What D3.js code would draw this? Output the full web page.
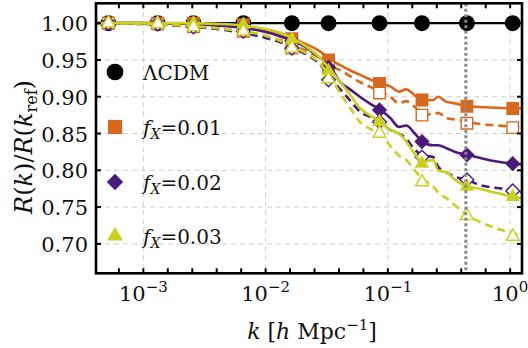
<!DOCTYPE html>
<html><head><meta charset="utf-8">
<script src="https://cdn.jsdelivr.net/npm/d3@7"></script>
<style>body{margin:0;background:#fff}svg text{font-family:"DejaVu Serif",serif;fill:#111}</style>
</head><body><svg id="c" width="528" height="348"></svg>
<script>
// ---------- data ----------
const markerK = [5.18e-4, 1.31e-3, 2.57e-3, 6.58e-3, 0.0164, 0.0327, 0.0854, 0.190, 0.443, 1.05];
const lcdmVals   = [1, 1, 1, 1, 1, 1, 1, 1, 1, 1];
const f01Filled  = [1.000, 1.000, 1.000, 0.998, 0.979, 0.950, 0.918, 0.8955, 0.887, 0.884];
const f01Open    = [1.000, 0.999, 0.995, 0.989, 0.966, 0.940, 0.905, 0.875, 0.864, 0.858];
const f02Filled  = [1.000, 1.000, 0.999, 0.996, 0.976, 0.940, 0.882, 0.839, 0.821, 0.809];
const f02Open    = [1.000, 0.999, 0.995, 0.989, 0.966, 0.923, 0.866, 0.818, 0.787, 0.772];
const f03Filled  = [1.000, 1.000, 1.000, 0.998, 0.978, 0.935, 0.866, 0.809, 0.778, 0.764];
const f03Open    = [1.000, 0.999, 0.995, 0.989, 0.966, 0.924, 0.850, 0.784, 0.738, 0.710];

const curveLogK = [-3.4, -3.0, -2.6, -2.4, -2.2, -2.0, -1.88, -1.72, -1.55, -1.47, -1.39, -1.31, -1.23, -1.14, -1.06,
                   -0.98, -0.91, -0.85, -0.78, -0.72, -0.63, -0.59, -0.52, -0.45, -0.35, -0.25, -0.11, 0.03, 0.10];
const f01SolidCurve  = [1.000, 1.000, 0.999, 0.998, 0.996, 0.990, 0.985, 0.975, 0.961, 0.950, 0.943, 0.936, 0.930, 0.923, 0.918,
                        0.914, 0.907, 0.910, 0.902, 0.8955, 0.8955, 0.900, 0.893, 0.891, 0.887, 0.886, 0.885, 0.884, 0.884];
const f01DashedCurve = [1.000, 0.999, 0.996, 0.993, 0.989, 0.982, 0.977, 0.966, 0.952, 0.942, 0.936, 0.928, 0.920, 0.913, 0.907,
                        0.900, 0.891, 0.894, 0.886, 0.877, 0.876, 0.878, 0.871, 0.869, 0.866, 0.863, 0.861, 0.859, 0.858];
const f02SolidCurve  = [1.000, 1.000, 0.999, 0.997, 0.994, 0.988, 0.982, 0.972, 0.952, 0.940, 0.920, 0.910, 0.900, 0.890, 0.882,
                        0.871, 0.859, 0.861, 0.850, 0.839, 0.834, 0.834, 0.830, 0.825, 0.821, 0.817, 0.812, 0.809, 0.808];
const f02DashedCurve = [1.000, 0.999, 0.995, 0.992, 0.987, 0.980, 0.974, 0.962, 0.943, 0.926, 0.910, 0.895, 0.880, 0.872, 0.865,
                        0.855, 0.850, 0.843, 0.828, 0.821, 0.818, 0.805, 0.797, 0.791, 0.787, 0.780, 0.776, 0.773, 0.770];
const f03SolidCurve  = [1.000, 1.000, 1.000, 0.999, 0.997, 0.992, 0.987, 0.974, 0.952, 0.936, 0.920, 0.903, 0.885, 0.874, 0.866,
                        0.855, 0.850, 0.839, 0.822, 0.811, 0.814, 0.800, 0.797, 0.787, 0.778, 0.775, 0.769, 0.764, 0.762];
const f03DashedCurve = [1.000, 0.999, 0.996, 0.993, 0.989, 0.983, 0.976, 0.964, 0.944, 0.926, 0.905, 0.885, 0.866, 0.856, 0.849,
                        0.833, 0.820, 0.814, 0.800, 0.789, 0.778, 0.770, 0.762, 0.752, 0.739, 0.730, 0.721, 0.714, 0.710];

const yTicks = [0.70, 0.75, 0.80, 0.85, 0.90, 0.95, 1.00];
const xMajor = [1e-3, 1e-2, 1e-1, 1];
const xMajorExp = ["−3", "−2", "−1", "0"];
const refK = 0.434;
const legendLabels = ["ΛCDM", "0.01", "0.02", "0.03"];

const cOrange = "#d8691c", cPurple = "#4a1a7c", cYellow = "#c8d11c";

// ---------- scales ----------
const svg = d3.select("#c");
const L = 96, R = 522, T = 3.3, B = 273.3;
const x = d3.scaleLog().domain([4.1e-4, 1.25]).range([L, R]);
const y = d3.scaleLinear().domain([0.66, 1.027]).range([B, T]);

svg.append("defs").append("clipPath").attr("id", "clip")
  .append("rect").attr("x", L).attr("y", T).attr("width", R - L).attr("height", B - T);

// grid
const grid = svg.append("g").attr("stroke", "#cfcfcf").attr("stroke-width", 1).attr("stroke-dasharray", "5,4");
grid.selectAll(".gx").data(xMajor).join("line")
  .attr("x1", d => x(d)).attr("x2", d => x(d)).attr("y1", T).attr("y2", B);
grid.selectAll(".gy").data(yTicks).join("line")
  .attr("x1", L).attr("x2", R).attr("y1", d => y(d)).attr("y2", d => y(d));

const plot = svg.append("g").attr("clip-path", "url(#clip)");
const line = d3.line().x(d => x(d[0])).y(d => y(d[1])).curve(d3.curveMonotoneX);

function curve(vals, color, dashed) {
  const pts = curveLogK.map((lk, i) => [Math.pow(10, lk), vals[i]]);
  plot.append("path").datum(pts).attr("d", line).attr("fill", "none")
    .attr("stroke", color).attr("stroke-width", 2.6)
    .attr("stroke-dasharray", dashed ? "8,5" : null);
}
const sym = {
  square: d3.symbol().type(d3.symbolSquare),
  diamond: d3.symbol().type(d3.symbolDiamond2),
  triangle: d3.symbol().type(d3.symbolTriangle2),
  circle: d3.symbol().type(d3.symbolCircle)
};
function markers(vals, shape, size, color, open) {
  plot.append("g").selectAll("path").data(markerK.map((k, i) => [k, vals[i]])).join("path")
    .attr("transform", d => `translate(${x(d[0])},${y(d[1])})`)
    .attr("d", sym[shape].size(open ? size * 0.8 : size)())
    .attr("fill", open ? "#fff" : color)
    .attr("stroke", open ? color : "none").attr("stroke-width", 1.4);
}

// LCDM
plot.append("path").datum(markerK.map((k, i) => [k, lcdmVals[i]]))
  .attr("d", d3.line().x(d => x(d[0])).y(d => y(d[1])))
  .attr("stroke", "#000").attr("stroke-width", 2.2).attr("fill", "none");
plot.append("line").attr("x1", L).attr("x2", x(markerK[0])).attr("y1", y(1)).attr("y2", y(1)).attr("stroke", "#000").attr("stroke-width", 2.2);
plot.append("line").attr("x1", x(markerK[9])).attr("x2", R).attr("y1", y(1)).attr("y2", y(1)).attr("stroke", "#000").attr("stroke-width", 2.2);
markers(lcdmVals, "circle", 200, "#000", false);

curve(f01SolidCurve, cOrange, false);
curve(f01DashedCurve, cOrange, true);
markers(f01Filled, "square", 165, cOrange, false);
markers(f01Open, "square", 165, cOrange, true);

curve(f02SolidCurve, cPurple, false);
curve(f02DashedCurve, cPurple, true);
markers(f02Filled, "diamond", 150, cPurple, false);
markers(f02Open, "diamond", 150, cPurple, true);

curve(f03SolidCurve, cYellow, false);
curve(f03DashedCurve, cYellow, true);
markers(f03Filled, "triangle", 150, cYellow, false);
markers(f03Open, "triangle", 150, cYellow, true);

// reference k line
svg.append("line").attr("x1", x(refK)).attr("x2", x(refK)).attr("y1", T).attr("y2", B)
  .attr("stroke", "#888").attr("stroke-width", 3).attr("stroke-dasharray", "3,2.5");

// frame
svg.append("rect").attr("x", L).attr("y", T).attr("width", R - L).attr("height", B - T)
  .attr("fill", "none").attr("stroke", "#000").attr("stroke-width", 2.6);

// ticks
const minor = d3.range(-17, 1).map(i => Math.pow(10, i * 0.2)).filter(k => k >= 4.1e-4 && k <= 1.25);
const tk = svg.append("g").attr("stroke", "#000").attr("stroke-width", 2);
tk.selectAll(".tb").data(minor).join("line").attr("x1", d => x(d)).attr("x2", d => x(d)).attr("y1", B).attr("y2", B - 5);
tk.selectAll(".tt").data(minor).join("line").attr("x1", d => x(d)).attr("x2", d => x(d)).attr("y1", T).attr("y2", T + 5);
tk.selectAll(".tl").data(yTicks).join("line").attr("x1", L).attr("x2", L + 5).attr("y1", d => y(d)).attr("y2", d => y(d));
tk.selectAll(".tr").data(yTicks).join("line").attr("x1", R).attr("x2", R - 5).attr("y1", d => y(d)).attr("y2", d => y(d));

// tick labels
svg.append("g").selectAll("text").data(yTicks).join("text")
  .attr("x", 88).attr("y", d => y(d) + 8).attr("text-anchor", "end")
  .attr("font-size", 21).text(d => d.toFixed(2));
const xl = svg.append("g").selectAll("text").data(xMajor).join("text")
  .attr("x", d => x(d)).attr("y", 301).attr("text-anchor", "middle").attr("font-size", 21);
xl.append("tspan").text("10");
xl.append("tspan").attr("dy", -9).attr("font-size", 15).text((d, i) => xMajorExp[i]);

// axis titles
const xt = svg.append("text").attr("x", 312).attr("y", 339).attr("text-anchor", "middle").attr("font-size", 22);
xt.append("tspan").attr("font-style", "italic").text("k");
xt.append("tspan").text(" [");
xt.append("tspan").attr("font-style", "italic").text("h");
xt.append("tspan").text(" Mpc");
xt.append("tspan").attr("dy", -9).attr("font-size", 15).text("−1");
xt.append("tspan").attr("dy", 9).text("]");

const yt = svg.append("text").attr("transform", "translate(32,147) rotate(-90)").attr("text-anchor", "middle").attr("font-size", 24);
yt.append("tspan").attr("font-style", "italic").text("R");
yt.append("tspan").text("(");
yt.append("tspan").attr("font-style", "italic").text("k");
yt.append("tspan").text(")/");
yt.append("tspan").attr("font-style", "italic").text("R");
yt.append("tspan").text("(");
yt.append("tspan").attr("font-style", "italic").text("k");
yt.append("tspan").attr("dy", 5).attr("font-size", 16).text("ref");
yt.append("tspan").attr("dy", -5).text(")");

// legend
const legY = [72, 127, 182, 236];
const legShapes = [["circle", 220, "#000"], ["square", 200, cOrange], ["diamond", 170, cPurple], ["triangle", 180, cYellow]];
legShapes.forEach((s, i) => {
  svg.append("path").attr("transform", `translate(115,${legY[i]})`)
    .attr("d", sym[s[0]].size(s[1])()).attr("fill", s[2]);
  const t = svg.append("text").attr("x", 143).attr("y", legY[i] + 8).attr("font-size", 20);
  if (i === 0) { t.text(legendLabels[0]); }
  else {
    t.append("tspan").attr("font-style", "italic").text("f");
    t.append("tspan").attr("font-style", "italic").attr("font-size", 14).attr("dy", 4).text("X");
    t.append("tspan").attr("dy", -4).text("=" + legendLabels[i]);
  }
});
</script></body></html>
